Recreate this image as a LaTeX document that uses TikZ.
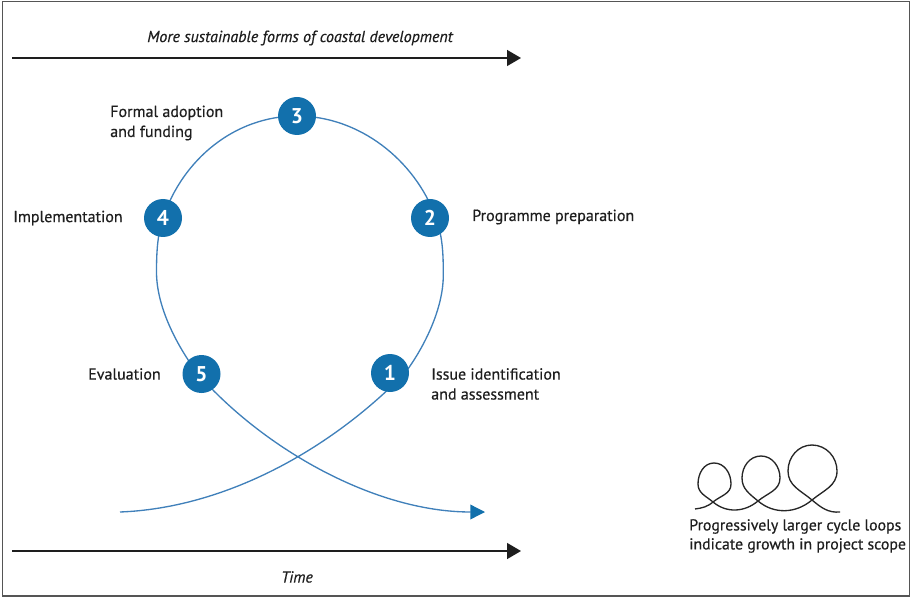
\documentclass[tikz,border=0pt]{standalone}
\usepackage{fontspec}
\setmainfont{PT Sans}
\newfontfamily\captionfont{PT Sans}[FakeBold=0.5]
\usetikzlibrary{arrows.meta,backgrounds}

\definecolor{cyclefill}{RGB}{18,112,172}
\definecolor{cycleline}{RGB}{64,128,186}
\definecolor{inkgray}{RGB}{30,30,30}
\definecolor{framegray}{RGB}{85,85,85}

\tikzset{
  stage/.style={circle, fill=cyclefill, minimum size=28.5pt, inner sep=0pt,
    text=white, font=\fontsize{16}{16}\selectfont\bfseries},
  steptext/.style={text=inkgray, font=\captionfont\fontsize{12}{15}\selectfont,
    align=left, inner sep=0pt},
  axistext/.style={text=inkgray, font=\captionfont\fontsize{12}{14}\selectfont\itshape,
    inner sep=0pt},
  axisarrow/.style={draw=inkgray, line width=1.1pt,
    -{Triangle[length=10.5pt,width=12pt]}},
  loopline/.style={draw=cycleline, line width=1pt},
  looparrow/.style={loopline, -{Triangle[length=11pt,width=11pt,color=cyclefill]}},
  iconline/.style={draw=black!85, line width=1pt},
}

\begin{document}
\begin{tikzpicture}[x=0.75pt,y=0.75pt]
\useasboundingbox (0,0) rectangle (912,-598);

% outer frame
\draw[framegray, line width=1.2pt] (2.5,-1.5) rectangle (909.5,-596);

% axes
\coordinate (topstart) at (12,-58);
\coordinate (topend)   at (521,-58);
\coordinate (botstart) at (12,-551);
\coordinate (botend)   at (521,-551);
\draw[axisarrow] (topstart) -- (topend);
\draw[axisarrow] (botstart) -- (botend);
\node[axistext] (toptitle) at (300,-38) {More sustainable forms of coastal development};
\node[axistext] (timetitle) at (297,-577) {Time};

% cycle stages
\node[stage] (n1) at (390,-373) {1};
\node[stage] (n2) at (430,-218) {2};
\node[stage] (n3) at (297,-116) {3};
\node[stage] (n4) at (163,-218) {4};
\node[stage] (n5) at (201.5,-374) {5};

% stage captions
\node[steptext, anchor=west] (t1) at (431,-384) {Issue identification\\and assessment};
\node[steptext, anchor=west] (t2) at (472,-217) {Programme preparation};
\node[steptext, anchor=west] (t3) at (110,-123) {Formal adoption\\and funding};
\node[steptext, anchor=west] (t4) at (13,-218) {Implementation};
\node[steptext, anchor=east] (t5) at (161,-374) {Evaluation};

% waypoints of the cycle loop
\coordinate (loopstart) at (120,-512);
\coordinate (pass1)     at (405,-373);
\coordinate (rightmost) at (443.3,-275);
\coordinate (pass2)     at (436,-218);
\coordinate (pass3)     at (297,-116);
\coordinate (pass4)     at (163,-218);
\coordinate (leftmost)  at (156.5,-272);
\coordinate (pass5)     at (198,-374);
\coordinate (loopend)   at (485,-512);

% the cycle loop, behind the stage discs
\begin{scope}[on background layer]
\draw[looparrow] (loopstart)
  .. controls (225,-508) and (330,-450) .. (pass1)
  .. controls (423,-349) and (443.3,-310) .. (rightmost)
  .. controls (443.3,-255) and (442.8,-236.8) .. (pass2)
  .. controls (414.9,-159.7) and (359,-116) .. (pass3)
  .. controls (235,-116) and (182.8,-159.1) .. (pass4)
  .. controls (157.2,-235.1) and (156.5,-254) .. (leftmost)
  .. controls (156.5,-307) and (177,-346) .. (pass5)
  .. controls (264,-449) and (375,-512) .. (loopend);
\end{scope}

% legend pictogram: three loops of growing size
\draw[iconline] (695,-509)
  to[out=8,in=220] (713,-502)
  to[out=40,in=270] (731,-484)
  to[out=90,in=0] (714,-463)
  to[out=180,in=90] (698,-484)
  to[out=270,in=140] (713,-502)
  to[out=-40,in=220] (758,-501)
  to[out=40,in=270] (780,-478)
  to[out=90,in=0] (761,-456)
  to[out=180,in=90] (742,-478)
  to[out=270,in=140] (758,-501)
  to[out=-40,in=220] (812,-500)
  to[out=40,in=270] (837,-471)
  to[out=90,in=0] (812,-445)
  to[out=180,in=90] (788,-471)
  to[out=270,in=140] (812,-500)
  to[out=-40,in=185] (840,-512);

\node[steptext, anchor=west, font=\captionfont\fontsize{11.85}{14.25}\selectfont] (legend) at (689,-536)
  {Progressively larger cycle loops\\indicate growth in project scope};
\end{tikzpicture}
\end{document}
